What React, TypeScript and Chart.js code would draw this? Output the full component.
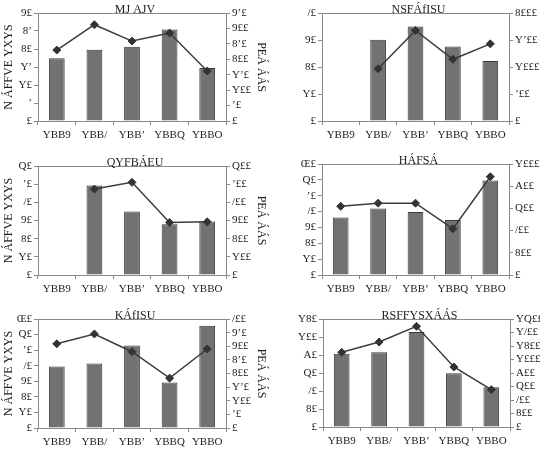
import React, { useEffect, useRef } from "react";
import { Chart, registerables } from "chart.js";
Chart.register(...registerables);

const years = ["YBB9", "YBB/", "YBB’", "YBBQ", "YBBO"];

const leftAxisTitle = "N ÁFFVE YXYS";
const rightAxisTitle = "PEÁ ÁÁS";

const title1 = "MJ AJV";
const bars1 = [17.4, 19.8, 20.6, 25.4, 14.7];
const line1 = [230, 312, 259, 285, 162];
const left1 = ["£", "’", "Y£", "Y’", "8£", "8’", "9£"];
const right1 = ["£", "’£", "Y££", "Y’£", "8££", "8’£", "9££", "9’£"];

const title2 = "NSFÁfISU";
const bars2 = [null, 30.1, 35.0, 27.6, 22.2];
const line2 = [null, 969, 1677, 1143, 1429];
const left2 = ["£", "Y£", "8£", "9£", "/£"];
const right2 = ["£", "’££", "Y£££", "Y’££", "8£££"];

const title3 = "QYFBÁEU";
const bars3 = [null, 49.3, 35.0, 28.0, 29.4];
const line3 = [null, 473, 510, 289, 293];
const left3 = ["£", "Y£", "8£", "9£", "/£", "’£", "Q£"];
const right3 = ["£", "Y££", "8££", "9££", "/££", "’££", "Q££"];

const title4 = "HÁFSÁ";
const bars4 = [36.2, 41.9, 39.8, 34.7, 59.6];
const line4 = [619, 647, 647, 417, 885];
const left4 = ["£", "Y£", "8£", "9£", "/£", "’£", "Q£", "Œ£"];
const right4 = ["£", "8££", "/££", "Q££", "A££", "Y£££"];

const title5 = "KÁfISU";
const bars5 = [39.5, 41.4, 53.0, 29.2, 65.7];
const line5 = [309, 345, 280, 183, 290];
const left5 = ["£", "Y£", "8£", "9£", "/£", "’£", "Q£", "Œ£"];
const right5 = ["£", "’£", "Y££", "Y’£", "8££", "8’£", "9££", "9’£", "/££"];

const title6 = "RSFFYSXÁÁS";
const bars6 = [81.5, 83.0, 105.6, 59.6, 44.1];
const line6 = [1106, 1259, 1491, 889, 553];
const left6 = ["£", "8£", "/£", "Q£", "A£", "Y££", "Y8£"];
const right6 = ["£", "8££", "/££", "Q££", "A££", "Y£££", "Y8££", "Y/££", "YQ££"];

const FONT = "'Liberation Serif', 'DejaVu Serif', serif";
const AXIS = "#8a8a8a";

type PanelProps = {
  cell: [number, number, number, number];
  plot: [number, number, number, number];
  title: string;
  bars: (number | null)[];
  line: (number | null)[];
  leftMax: number;
  leftStep: number;
  leftLabels: string[];
  rightMax: number;
  rightStep: number;
  rightLabels: string[];
  axisTitles: boolean;
};

function Panel(p: PanelProps) {
  const ref = useRef<HTMLCanvasElement>(null);
  const [cx, cy, cw, ch] = p.cell;
  const [pl, pt, pr, pb] = p.plot;
  useEffect(() => {
    const leftW = pl - cx;
    const rightW = cx + cw - pr;
    const bottomH = cy + ch - pb;
    const topPad = pt - cy;
    const titlePlugin = {
      id: "panelTitle",
      afterDraw(chart: any) {
        const a = chart.chartArea;
        const ctx = chart.ctx;
        ctx.save();
        ctx.strokeStyle = AXIS;
        ctx.lineWidth = 1;
        ctx.beginPath();
        ctx.moveTo(a.left, Math.round(a.top) + 0.5);
        ctx.lineTo(a.right, Math.round(a.top) + 0.5);
        ctx.stroke();
        ctx.fillStyle = "#222";
        ctx.font = `12px ${FONT}`;
        ctx.textAlign = "center";
        ctx.textBaseline = "alphabetic";
        ctx.fillText(p.title, (a.left + a.right) / 2 + 3, a.top - 0.5);
        ctx.restore();
      },
    };
    const chart = new Chart(ref.current!, {
      type: "bar",
      data: {
        labels: years,
        datasets: [
          {
            type: "line",
            data: p.line as any,
            yAxisID: "y1",
            borderColor: "#3c3c3c",
            borderWidth: 1.5,
            pointStyle: "rectRot",
            pointRadius: 4,
            pointBackgroundColor: "#333",
            pointBorderColor: "#333",
            pointBorderWidth: 1,
            tension: 0,
          } as any,
          {
            type: "bar",
            data: p.bars as any,
            yAxisID: "y",
            backgroundColor: "#727272",
            borderColor: "#3a3a3a",
            borderWidth: 1,
            categoryPercentage: 1,
            barPercentage: 0.42,
          } as any,
        ],
      },
      options: {
        animation: false,
        responsive: false,
        layout: { padding: { top: topPad, left: 0, right: 0, bottom: 0 } },
        plugins: { legend: { display: false }, tooltip: { enabled: false }, title: { display: false } },
        scales: {
          x: {
            type: "category",
            offset: true,
            grid: { offset: true, drawOnChartArea: false, tickLength: 4, color: AXIS },
            border: { color: AXIS },
            ticks: { font: { family: FONT, size: 11 }, color: "#222", padding: 4, maxRotation: 0, autoSkip: false },
            afterFit: (s: any) => { s.height = bottomH; },
          },
          y: {
            position: "left",
            min: 0,
            max: p.leftMax,
            grid: { drawOnChartArea: false, tickLength: 4, color: AXIS },
            border: { color: AXIS },
            ticks: {
              stepSize: p.leftStep,
              autoSkip: false,
              padding: 2,
              font: { family: FONT, size: 11 },
              color: "#222",
              callback: (_v: any, i: number) => p.leftLabels[i] ?? "",
            },
            title: {
              display: p.axisTitles,
              text: leftAxisTitle,
              font: { family: FONT, size: 12 },
              color: "#222",
              padding: { top: 2, bottom: 0 },
            },
            afterFit: (s: any) => { s.width = leftW; },
          },
          y1: {
            position: "right",
            min: 0,
            max: p.rightMax,
            grid: { drawOnChartArea: false, tickLength: 4, color: AXIS },
            border: { color: AXIS },
            ticks: {
              stepSize: p.rightStep,
              autoSkip: false,
              padding: 2,
              font: { family: FONT, size: 11 },
              color: "#222",
              callback: (_v: any, i: number) => p.rightLabels[i] ?? "",
            },
            title: {
              display: p.axisTitles,
              text: rightAxisTitle,
              font: { family: FONT, size: 12 },
              color: "#222",
              padding: { top: 2, bottom: 2 },
            },
            afterFit: (s: any) => { s.width = rightW; },
          },
        },
      } as any,
      plugins: [titlePlugin],
    });
    return () => chart.destroy();
  }, []);
  return (
    <canvas
      ref={ref}
      width={cw}
      height={ch}
      style={{ position: "absolute", left: cx, top: cy, width: cw, height: ch }}
    />
  );
}

export default function App() {
  return (
    <div style={{ position: "fixed", left: 0, top: 0, width: 540, height: 457, background: "#fff" }}>
      <Panel cell={[0, 0, 270, 152]} plot={[38, 13, 226, 121]} title={title1} bars={bars1} line={line1}
        leftMax={30} leftStep={5} leftLabels={left1} rightMax={350} rightStep={50} rightLabels={right1} axisTitles />
      <Panel cell={[270, 0, 270, 152]} plot={[322, 13, 509, 121]} title={title2} bars={bars2} line={line2}
        leftMax={40} leftStep={10} leftLabels={left2} rightMax={2000} rightStep={500} rightLabels={right2} axisTitles={false} />
      <Panel cell={[0, 152, 270, 152]} plot={[38, 166, 226, 275]} title={title3} bars={bars3} line={line3}
        leftMax={60} leftStep={10} leftLabels={left3} rightMax={600} rightStep={100} rightLabels={right3} axisTitles />
      <Panel cell={[270, 152, 270, 152]} plot={[322, 164, 509, 275]} title={title4} bars={bars4} line={line4}
        leftMax={70} leftStep={10} leftLabels={left4} rightMax={1000} rightStep={200} rightLabels={right4} axisTitles={false} />
      <Panel cell={[0, 304, 270, 153]} plot={[38, 319, 226, 428]} title={title5} bars={bars5} line={line5}
        leftMax={70} leftStep={10} leftLabels={left5} rightMax={400} rightStep={50} rightLabels={right5} axisTitles />
      <Panel cell={[270, 304, 270, 153]} plot={[323, 319, 510, 427]} title={title6} bars={bars6} line={line6}
        leftMax={120} leftStep={20} leftLabels={left6} rightMax={1600} rightStep={200} rightLabels={right6} axisTitles={false} />
    </div>
  );
}
